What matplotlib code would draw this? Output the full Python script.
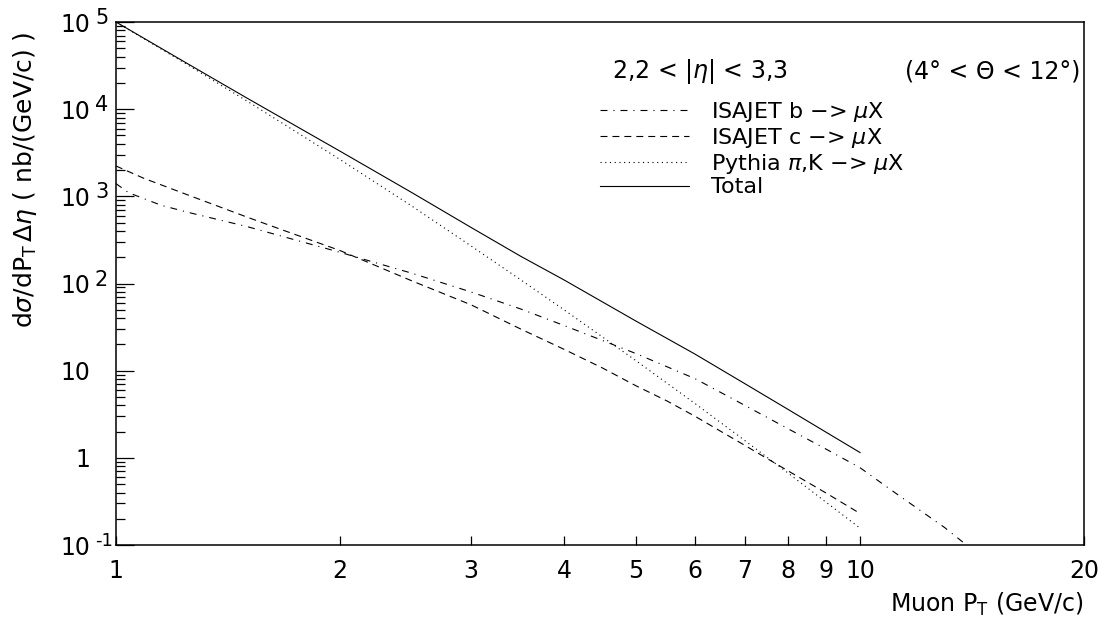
#!/usr/bin/env python3
"""
Muon pT spectrum for 2.2 < |eta| < 3.3, split by source (log-log)
"""

import matplotlib

matplotlib.use("Agg")
import matplotlib.pyplot as plt
from matplotlib import transforms
from matplotlib.ticker import FixedLocator, NullFormatter

# Muon pT (GeV/c) and d(sigma)/dpT d(eta) in nb/(GeV/c)
pt_b = [1.0, 1.04, 1.15, 1.25, 1.5, 2.0, 2.25, 2.5, 3.0, 3.5, 4.0, 5.0,
        6.0, 7.0, 8.0, 9.0, 10.0, 11.0, 12.0, 13.0, 13.9]
isajet_b = [1400, 1100, 790, 655, 450, 228, 170, 131, 80, 51, 33, 15.7,
            8.1, 4.0, 2.16, 1.26, 0.77, 0.43, 0.255, 0.158, 0.1]

pt_c = [1.0, 1.09, 1.25, 1.5, 1.65, 2.0, 2.5, 3.0, 3.5, 4.0, 4.5, 5.0,
        5.5, 6.0, 7.0, 8.0, 9.0, 10.0]
isajet_c = [2230, 1610, 1035, 578, 430, 239, 107, 57, 30, 17.6, 10.8, 6.7,
            4.5, 3.0, 1.39, 0.71, 0.395, 0.23]

pt_pk = [1.0, 1.25, 1.5, 2.0, 2.5, 3.0, 3.5, 4.0, 5.0, 6.0, 7.0, 8.0, 9.0, 10.0]
pythia_pik = [1e5, 32000, 12400, 2650, 770, 270, 110, 50, 13, 4.2, 1.58,
              0.67, 0.31, 0.156]

pt_tot = [1.0, 1.25, 1.5, 2.0, 2.5, 3.0, 3.5, 4.0, 5.0, 6.0, 7.0, 8.0, 9.0, 10.0]
total = [1e5, 33000, 13400, 3300, 1100, 440, 205, 110, 37, 15.5, 7.1, 3.6,
         1.97, 1.15]

x_ticks = [1, 2, 3, 4, 5, 6, 7, 8, 9, 10, 20]
y_decades = [0.1, 1, 10, 100, 1000, 1e4, 1e5]
y_labels = [("10", "-1"), ("1", ""), ("10", ""), ("10", "2"),
            ("10", "3"), ("10", "4"), ("10", "5")]

plt.rcParams["font.family"] = ["DejaVu Sans"]
plt.rcParams["mathtext.fontset"] = "dejavusans"
plt.rcParams["lines.scale_dashes"] = False

fig = plt.figure(figsize=(11.13, 6.18), dpi=100)
ax = fig.add_axes([0.1042, 0.1181, 0.8698, 0.8463])

lw = 0.8
arrow = " \u2212> "
ax.plot(pt_b, isajet_b, color="black", lw=lw,
        linestyle=(0, (5.0, 4.3, 0.8, 4.3)),
        label="ISAJET b" + arrow + r"$\mu$X")
ax.plot(pt_c, isajet_c, color="black", lw=lw,
        linestyle=(0, (5.0, 3.6)),
        label="ISAJET c" + arrow + r"$\mu$X")
ax.plot(pt_pk, pythia_pik, color="black", lw=lw,
        linestyle=(0, (0.8, 2.6)),
        label=r"Pythia $\pi$,K" + arrow + r"$\mu$X")
ax.plot(pt_tot, total, color="black", lw=lw, linestyle="-", label="Total")

ax.set_xscale("log")
ax.set_yscale("log")
ax.set_xlim(1, 20)
ax.set_ylim(0.1, 1e5)

for side in ["left", "bottom", "top", "right"]:
    ax.spines[side].set_linewidth(1.1)

# x axis: short inward ticks at 2..9, a long one at 10
ax.xaxis.set_major_locator(FixedLocator(x_ticks))
ax.set_xticklabels([str(t) for t in x_ticks])
ax.xaxis.set_minor_locator(FixedLocator([10]))
ax.xaxis.set_minor_formatter(NullFormatter())
ax.tick_params(axis="x", which="major", direction="in", length=6.5,
               width=0.9, labelsize=17, pad=10, top=False)
ax.tick_params(axis="x", which="minor", direction="in", length=13,
               width=0.9, top=False)

# y axis: long decade ticks, short sub-decade ticks, labels drawn by hand
minor_y = [m * d for d in y_decades[:-1] for m in range(2, 10)]
ax.yaxis.set_major_locator(FixedLocator(y_decades))
ax.yaxis.set_minor_locator(FixedLocator(minor_y))
ax.yaxis.set_minor_formatter(NullFormatter())
ax.tick_params(axis="y", which="major", direction="in", length=13,
               width=0.9, labelleft=False, right=False)
ax.tick_params(axis="y", which="minor", direction="in", length=6.5,
               width=0.9, right=False)

ytrans = ax.get_yaxis_transform()
base_tr = transforms.offset_copy(ytrans, fig=fig, x=-26, y=0, units="dots")
exp_tr = transforms.offset_copy(ytrans, fig=fig, x=-21, y=6, units="dots")
for val, (base, expo) in zip(y_decades, y_labels):
    ax.text(0, val, base, transform=base_tr, ha="right",
            va="center_baseline", fontsize=17)
    if expo:
        ax.text(0, val, expo, transform=exp_tr, ha="left",
                va="center_baseline", fontsize=15 if len(expo) == 1 else 13)

fig.text(25 / 1113, 1 - 180 / 618,
         r"d$\sigma$/dP$_{\rm T}\,\Delta\eta$ ( nb/(GeV/c) )",
         rotation=90, ha="center", va="center", fontsize=18)
fig.text(1083 / 1113, 1 - 604 / 618, r"Muon P$_{\rm T}$ (GeV/c)",
         ha="right", va="center", fontsize=17)

fig.text(612 / 1113, 1 - 72 / 618, r"2,2 < |$\eta$| < 3,3",
         ha="left", va="center", fontsize=17)
fig.text(1080 / 1113, 1 - 72 / 618, "(4\u00b0 < \u0398 < 12\u00b0)",
         ha="right", va="center", fontsize=17)

ax.legend(loc="upper left", bbox_to_anchor=(600 / 1113, 1 - 100 / 618),
          bbox_transform=fig.transFigure, frameon=False, fontsize=16,
          handlelength=4.0, handletextpad=1.0, labelspacing=0.08,
          borderpad=0, borderaxespad=0)

fig.savefig("out.png", dpi=100)
